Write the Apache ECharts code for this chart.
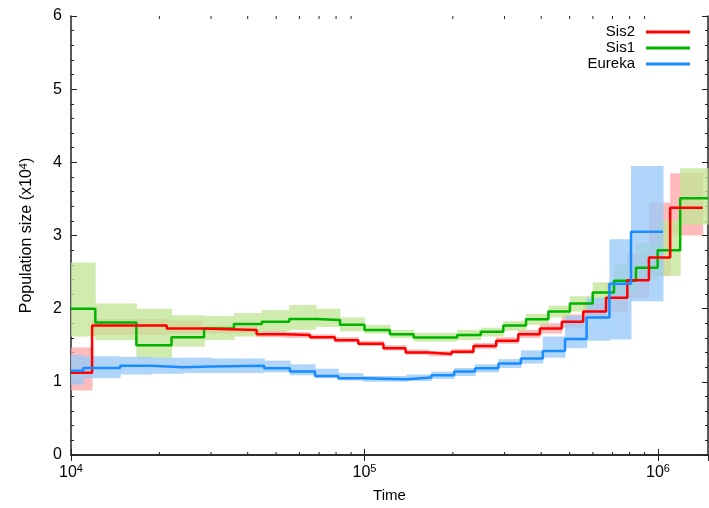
<!DOCTYPE html>
<html>
<head>
<meta charset="utf-8">
<script src="https://cdn.jsdelivr.net/npm/echarts@6/dist/echarts.min.js"></script>
<style>
  html, body { margin: 0; padding: 0; background: #fff; }
  #chart { width: 709px; height: 508px; }
</style>
</head>
<body>
<div id="chart"></div>
<script>
// ---- data (time in years, size in x10^4) ----
var sis2Time  = [1.0e4, 1.18e4, 2.12e4, 2.79e4, 4.29e4, 5.36e4, 6.52e4, 7.93e4, 9.52e4, 1.16e5, 1.38e5, 1.65e5, 1.98e5, 2.35e5, 2.81e5, 3.34e5, 3.96e5, 4.70e5, 5.56e5, 6.65e5, 7.86e5, 9.31e5, 1.10e6, 1.42e6];
var sis2Size  = [1.125, 1.77, 1.73, 1.71, 1.65, 1.64, 1.61, 1.57, 1.52, 1.46, 1.40, 1.38, 1.41, 1.49, 1.56, 1.65, 1.73, 1.82, 1.96, 2.15, 2.39, 2.70, 3.38, 3.38];
var sis2Low   = [0.88, 1.64, 1.66, 1.66, 1.61, 1.60, 1.58, 1.54, 1.49, 1.43, 1.37, 1.35, 1.38, 1.45, 1.52, 1.60, 1.66, 1.74, 1.86, 1.95, 2.15, 2.45, 3.00, 3.00];
var sis2High  = [1.47, 1.86, 1.84, 1.77, 1.70, 1.68, 1.65, 1.61, 1.56, 1.50, 1.44, 1.42, 1.45, 1.53, 1.61, 1.71, 1.80, 1.92, 2.08, 2.35, 2.75, 3.45, 3.85, 3.85];

var sis1Time  = [1.0e4, 1.21e4, 1.67e4, 2.20e4, 2.84e4, 3.59e4, 4.47e4, 5.54e4, 6.82e4, 8.25e4, 1.00e5, 1.22e5, 1.47e5, 2.07e5, 2.49e5, 2.97e5, 3.55e5, 4.23e5, 5.01e5, 5.99e5, 7.08e5, 8.41e5, 9.97e5, 1.19e6, 1.48e6];
var sis1Size  = [2.00, 1.81, 1.50, 1.61, 1.73, 1.79, 1.82, 1.86, 1.845, 1.78, 1.71, 1.65, 1.605, 1.64, 1.685, 1.77, 1.855, 1.96, 2.07, 2.22, 2.38, 2.56, 2.80, 3.51, 3.51];
var sis1Low   = [1.62, 1.57, 1.32, 1.48, 1.57, 1.62, 1.69, 1.71, 1.75, 1.69, 1.66, 1.60, 1.55, 1.57, 1.62, 1.70, 1.78, 1.88, 1.96, 2.08, 2.20, 2.40, 2.45, 3.15, 3.15];
var sis1High  = [2.63, 2.07, 2.00, 1.91, 1.90, 1.94, 1.98, 2.05, 2.00, 1.88, 1.78, 1.71, 1.67, 1.71, 1.74, 1.83, 1.93, 2.04, 2.17, 2.36, 2.60, 2.90, 3.20, 3.92, 3.92];

var eurekaTime = [1.0e4, 1.10e4, 1.47e4, 1.88e4, 2.41e4, 3.01e4, 4.55e4, 5.57e4, 6.78e4, 8.14e4, 9.86e4, 1.39e5, 1.69e5, 2.02e5, 2.38e5, 2.86e5, 3.41e5, 4.05e5, 4.82e5, 5.71e5, 6.83e5, 8.09e5, 1.04e6];
var eurekaSize = [1.15, 1.19, 1.22, 1.20, 1.21, 1.22, 1.185, 1.14, 1.08, 1.05, 1.035, 1.06, 1.09, 1.14, 1.185, 1.25, 1.32, 1.42, 1.585, 1.88, 2.34, 3.05, 3.05];
var eurekaLow  = [0.96, 1.05, 1.10, 1.11, 1.12, 1.12, 1.13, 1.09, 1.05, 1.02, 1.00, 1.01, 1.04, 1.08, 1.13, 1.19, 1.25, 1.33, 1.46, 1.56, 1.58, 2.10, 2.10];
var eurekaHigh = [1.37, 1.35, 1.34, 1.33, 1.33, 1.32, 1.29, 1.24, 1.18, 1.12, 1.08, 1.10, 1.14, 1.19, 1.24, 1.31, 1.43, 1.62, 1.90, 2.15, 2.95, 3.95, 3.95];

var minorTimes = [2e4, 3e4, 4e4, 5e4, 6e4, 7e4, 8e4, 9e4, 2e5, 3e5, 4e5, 5e5, 6e5, 7e5, 8e5, 9e5];

var FONT = '"Liberation Sans", Arial, Helvetica, sans-serif';
var AXIS_COLOR = '#222';

function pairs(xs, ys) {
  return xs.map(function (x, i) { return [x, ys[i]]; });
}

// bootstrap band: one rect per time segment
function band(key, xs, lo, hi, fill, z) {
  var segs = [];
  for (var i = 0; i < xs.length - 1; i++) {
    segs.push([xs[i], xs[i + 1], lo[i], hi[i]]);
  }
  return {
    name: key + '-band', type: 'custom', silent: true, z: z,
    encode: { x: [0, 1], y: [2, 3] },
    data: segs,
    renderItem: function (params, api) {
      var a = api.coord([api.value(0), api.value(3)]);
      var b = api.coord([api.value(1), api.value(2)]);
      return {
        type: 'rect',
        shape: { x: a[0], y: a[1], width: b[0] - a[0] + 0.5, height: b[1] - a[1] },
        style: { fill: fill, opacity: 0.78 }
      };
    }
  };
}

function mainLine(name, xs, ys, color, z) {
  return {
    name: name, type: 'line', step: 'end', symbol: 'none', z: z,
    lineStyle: { color: color, width: 2.5 },
    itemStyle: { color: color },
    data: pairs(xs, ys)
  };
}

var chart = echarts.init(document.getElementById('chart'), null, { renderer: 'canvas' });

var logLabel = function (v) {
  var e = Math.log10(v);
  if (Math.abs(e - Math.round(e)) > 1e-6) return '';
  return '{b|10}{s|' + Math.round(e) + '}';
};

var series = [
  band('sis2', sis2Time, sis2Low, sis2High, '#ffa8a8', 1),
  band('sis1', sis1Time, sis1Low, sis1High, '#c2e696', 2),
  band('eureka', eurekaTime, eurekaLow, eurekaHigh, '#98caf8', 3),
  mainLine('Sis1', sis1Time, sis1Size, '#00b400', 5),
  mainLine('Sis2', sis2Time, sis2Size, '#ff0000', 6),
  mainLine('Eureka', eurekaTime, eurekaSize, '#1a8cff', 7),
  {
    // minor ticks of the log axis (bottom + mirrored top)
    name: 'minor', type: 'custom', silent: true, z: 10, clip: false,
    encode: { x: 0, y: 1 },
    data: minorTimes.map(function (t) { return [t, 0]; }),
    renderItem: function (params, api) {
      var b = api.coord([api.value(0), 0]);
      var t = api.coord([api.value(0), 6]);
      return {
        type: 'group',
        children: [
          { type: 'line', shape: { x1: b[0], y1: b[1], x2: b[0], y2: b[1] - 3 }, style: { stroke: AXIS_COLOR, lineWidth: 1 } },
          { type: 'line', shape: { x1: t[0], y1: t[1], x2: t[0], y2: t[1] + 3 }, style: { stroke: AXIS_COLOR, lineWidth: 1 } }
        ]
      };
    }
  }
];

var option = {
  animation: false,
  backgroundColor: '#fff',
  textStyle: { fontFamily: FONT },
  grid: { left: 71, right: 1, top: 16, bottom: 53, containLabel: false, outerBoundsMode: 'none' },
  legend: {
    data: ['Sis2', 'Sis1', 'Eureka'],
    orient: 'vertical',
    align: 'right',
    right: 14,
    top: 19,
    itemWidth: 44,
    itemHeight: 3,
    itemGap: 0,
    icon: 'rect',
    textStyle: { fontFamily: FONT, fontSize: 15, color: '#000', lineHeight: 16, padding: [0, 6, 0, 0] }
  },
  xAxis: [
    {
      type: 'log', logBase: 10, min: 1e4, max: 1.48e6,
      name: 'Time', nameLocation: 'middle', nameGap: 33,
      nameTextStyle: { fontFamily: FONT, fontSize: 15, color: '#000' },
      axisLine: { show: true, lineStyle: { color: AXIS_COLOR, width: 1.5 } },
      axisTick: { show: true, inside: true, length: 6, lineStyle: { color: AXIS_COLOR } },
      axisLabel: {
        margin: 8, formatter: logLabel, showMaxLabel: false, color: '#000',
        rich: {
          b: { fontFamily: FONT, fontSize: 16, lineHeight: 20, color: '#000' },
          s: { fontFamily: FONT, fontSize: 11, lineHeight: 10, verticalAlign: 'top', color: '#000' }
        }
      },
      splitLine: { show: false }
    },
    {
      type: 'log', logBase: 10, min: 1e4, max: 1.48e6, position: 'top',
      axisLine: { show: true, lineStyle: { color: AXIS_COLOR, width: 1.5 } },
      axisTick: { show: true, inside: true, length: 6, lineStyle: { color: AXIS_COLOR } },
      axisLabel: { show: false },
      splitLine: { show: false }
    }
  ],
  yAxis: [
    {
      type: 'value', min: 0, max: 6, interval: 1,
      name: '{a|Population size (x10}{s|4}{a|)}',
      nameLocation: 'middle', nameGap: 35,
      nameTextStyle: {
        rich: {
          a: { fontFamily: FONT, fontSize: 16, lineHeight: 18, color: '#000' },
          s: { fontFamily: FONT, fontSize: 11, lineHeight: 9, verticalAlign: 'top', color: '#000' }
        }
      },
      axisLine: { show: true, lineStyle: { color: AXIS_COLOR, width: 1.5 } },
      axisTick: { show: true, inside: true, length: 6, lineStyle: { color: AXIS_COLOR } },
      minorTick: { show: true, splitNumber: 5, length: 3, lineStyle: { color: AXIS_COLOR } },
      axisLabel: { margin: 9, fontFamily: FONT, fontSize: 16, color: '#000' },
      splitLine: { show: false }
    },
    {
      type: 'value', min: 0, max: 6, interval: 1, position: 'right',
      axisLine: { show: true, lineStyle: { color: AXIS_COLOR, width: 1.5 } },
      axisTick: { show: true, inside: true, length: 6, lineStyle: { color: AXIS_COLOR } },
      minorTick: { show: true, splitNumber: 5, length: 3, lineStyle: { color: AXIS_COLOR } },
      axisLabel: { show: false },
      splitLine: { show: false }
    }
  ],
  series: series
};

chart.setOption(option);
</script>
</body>
</html>
